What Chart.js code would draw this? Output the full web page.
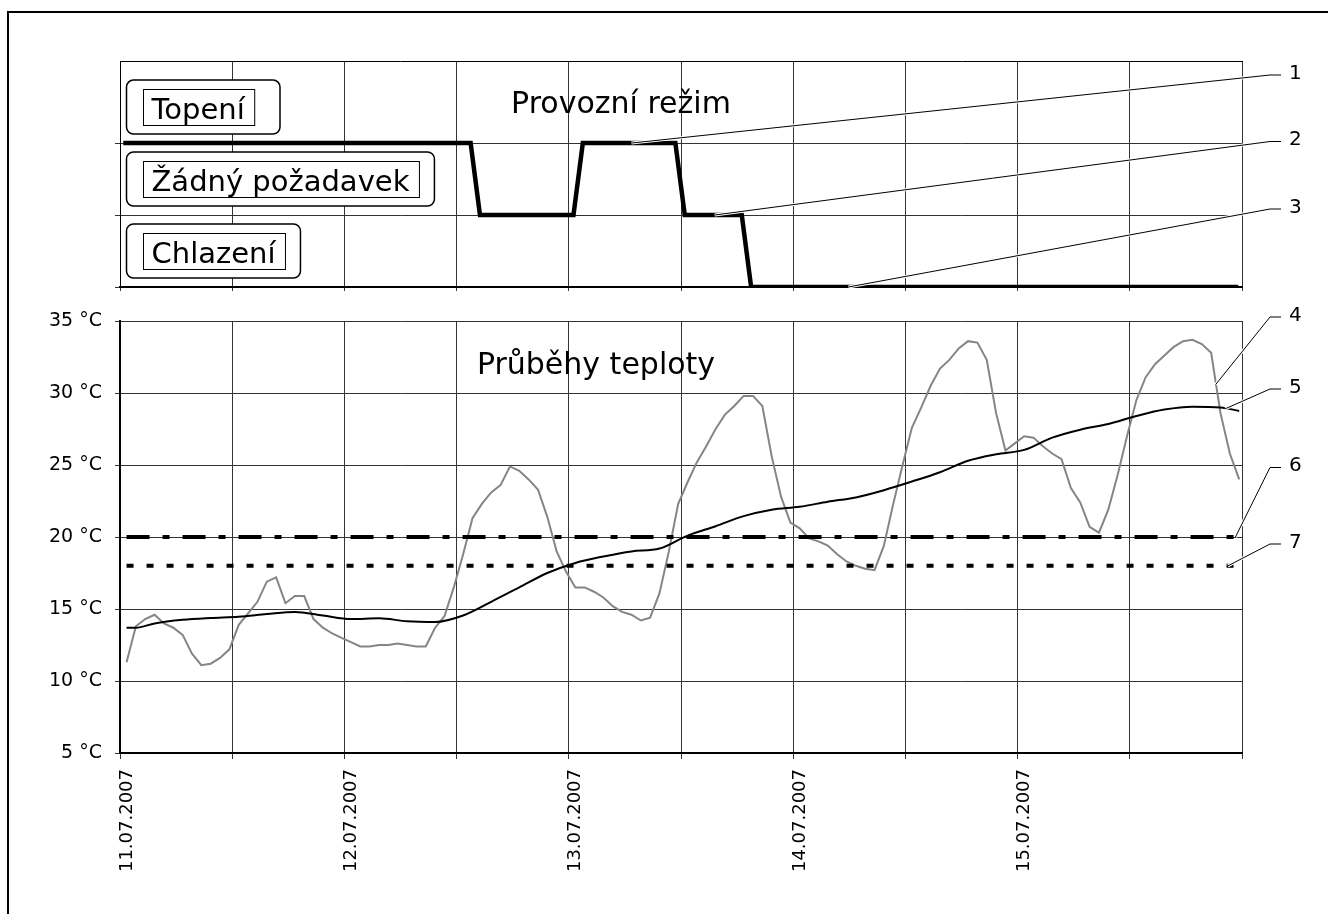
<!DOCTYPE html>
<html>
<head>
  <meta charset="UTF-8">
  <title>Provozní režim a průběhy teploty</title>
  <script src="https://cdn.jsdelivr.net/npm/chart.js"></script>
  <style>
    body {
      margin: 0;
      background: #fff;
    }

    .sheet {
      position: relative;
      width: 1328px;
      height: 914px;
      overflow: hidden;
    }

    .frame {
      position: absolute;
      left: 7px;
      top: 11px;
      width: 1400px;
      height: 1000px;
      border: 2px solid #000;
    }

    canvas {
      position: absolute;
      left: 0;
      top: 0;
    }
  </style>
</head>
<body>
  <div class="sheet">
    <div class="frame"></div>
    <canvas id="modeChart" width="1328" height="914"></canvas>
    <canvas id="tempChart" width="1328" height="914"></canvas>
  </div>

  <script>
    // --- data (x = hours since 11.07.2007 00:00) ---
    const dayLabels = ['11.07.2007', '12.07.2007', '13.07.2007', '14.07.2007', '15.07.2007'];
    const modeTitle = 'Provozní režim';
    const tempTitle = 'Průběhy teploty';

    // mode levels: 0 = Chlazení, 1 = Žádný požadavek, 2 = Topení
    const modeNames = ['Chlazení', 'Žádný požadavek', 'Topení'];
    const modeHours = [0.35, 37.5, 38.5, 48.5, 49.5, 59.4, 60.4, 66.5, 67.5, 119.6];
    const modeLevels = [2, 2, 1, 1, 2, 2, 1, 1, 0, 0];

    // measured temperature, one sample per hour starting at 00:42
    const firstSampleHour = 0.7;
    const measuredTemps = [
      11.3, 13.8, 14.3, 14.6, 14.0, 13.7, 13.2, 11.9, 11.1, 11.2, 11.6, 12.2,
      13.9, 14.7, 15.5, 16.9, 17.2, 15.4, 15.9, 15.9, 14.3, 13.7, 13.3, 13.0,
      12.7, 12.4, 12.4, 12.5, 12.5, 12.6, 12.5, 12.4, 12.4, 13.7, 14.5, 16.5,
      18.8, 21.3, 22.3, 23.1, 23.6, 24.9, 24.6, 24.0, 23.3, 21.4, 19.0, 17.6,
      16.5, 16.5, 16.2, 15.8, 15.2, 14.8, 14.6, 14.2, 14.4, 16.1, 19.0, 22.3,
      23.8, 25.2, 26.3, 27.5, 28.5, 29.1, 29.8, 29.8, 29.1, 25.6, 22.8, 21.0,
      20.6, 19.9, 19.7, 19.4, 18.8, 18.3, 18.0, 17.8, 17.7, 19.4, 22.3, 25.0,
      27.6, 29.0, 30.5, 31.7, 32.3, 33.1, 33.6, 33.5, 32.3, 28.6, 26.0, 26.5,
      27.0, 26.9, 26.3, 25.8, 25.4, 23.4, 22.4, 20.7, 20.3, 21.9, 24.3, 27.0,
      29.5, 31.1, 32.0, 32.6, 33.2, 33.6, 33.7, 33.4, 32.8, 28.6, 25.8, 24.0
    ];

    // averaged temperature
    const avgHours = [0.7, 1.7, 3.7, 6.7, 9.7, 12.7, 15.7, 18.7, 21.7, 24.7, 27.7, 30.7, 33.7, 36.7,
      39.7, 42.7, 45.7, 48.7, 51.7, 54.7, 57.7, 60.7, 63.7, 66.7, 69.7, 72.7, 75.7, 78.7, 81.7,
      84.7, 87.7, 90.7, 93.7, 96.7, 99.7, 102.7, 105.7, 108.7, 111.7, 114.7, 117.7, 119.7];
    const avgTemps = [13.7, 13.7, 14.0, 14.25, 14.38, 14.47, 14.65, 14.8, 14.55, 14.3, 14.35, 14.15, 14.1, 14.55,
      15.5, 16.5, 17.5, 18.2, 18.65, 19.0, 19.2, 20.1, 20.75, 21.45, 21.9, 22.1, 22.45, 22.75, 23.25,
      23.85, 24.5, 25.3, 25.75, 26.05, 26.9, 27.45, 27.85, 28.4, 28.85, 29.05, 29.0, 28.75];

    // set points
    const heatingLimit = 20;
    const coolingLimit = 18;
    const limitHours = [0.7, 119.3];

    // numbered callouts: target in data units, label row in page pixels
    const modeCallouts = [
      { num: '1', hour: 54.7, value: 2, labelY: 75 },
      { num: '2', hour: 63.6, value: 1, labelY: 141.5 },
      { num: '3', hour: 77.9, value: 0, labelY: 209 }
    ];
    const tempCallouts = [
      { num: '4', hour: 117.2, value: 30.6, labelY: 317 },
      { num: '5', hour: 118.2, value: 28.9, labelY: 389 },
      { num: '6', hour: 119.3, value: 20, labelY: 467.5 },
      { num: '7', hour: 118.5, value: 18, labelY: 544 }
    ];

    // --- drawing ---
    Chart.defaults.font.family = '"DejaVu Sans", sans-serif';
    Chart.defaults.color = '#000';

    const gridColor = '#333';
    const fontFamily = '"DejaVu Sans", sans-serif';

    function drawCallout(ctx, c, x, y) {
      const sx = 1270, ex = 1281;
      ctx.save();
      ctx.lineCap = 'butt';
      ctx.strokeStyle = '#fff';
      ctx.lineWidth = 3;
      ctx.beginPath();
      ctx.moveTo(x, y);
      ctx.lineTo(sx, c.labelY);
      ctx.stroke();
      ctx.strokeStyle = '#000';
      ctx.lineWidth = 1;
      ctx.beginPath();
      ctx.moveTo(x, y);
      ctx.lineTo(sx, c.labelY);
      ctx.lineTo(ex, c.labelY);
      ctx.stroke();
      ctx.fillStyle = '#000';
      ctx.font = '20px ' + fontFamily;
      ctx.textAlign = 'left';
      ctx.textBaseline = 'middle';
      ctx.fillText(c.num, 1289, c.labelY - 1.5);
      ctx.restore();
    }

    function boxPath(ctx, x, y, w, h, r) {
      ctx.beginPath();
      if (ctx.roundRect) {
        ctx.roundRect(x, y, w, h, r);
      } else {
        ctx.rect(x, y, w, h);
      }
    }

    const modeDecor = {
      id: 'modeDecor',
      afterDatasetsDraw(chart) {
        const { ctx, scales: { x, y } } = chart;
        ctx.save();
        ctx.font = '29px ' + fontFamily;
        ctx.fillStyle = '#000';
        ctx.strokeStyle = '#000';
        modeNames.forEach((name, i) => {
          const top = y.getPixelForValue(Math.min(i + 1, y.max));
          const bottom = y.getPixelForValue(i);
          const cy = (top + bottom) / 2;
          const w = ctx.measureText(name).width;
          const innerLeft = 143.5;
          const innerRight = innerLeft + w + 18;
          const outerRight = Math.max(innerRight + 15, 280);
          ctx.lineWidth = 1.5;
          boxPath(ctx, 126.5, cy - 27, outerRight - 126.5, 54, 7);
          ctx.fillStyle = '#fff';
          ctx.fill();
          ctx.stroke();
          ctx.lineWidth = 1;
          ctx.strokeRect(innerLeft, Math.round(cy - 18) + 0.5, innerRight - innerLeft, 36);
          ctx.fillStyle = '#000';
          ctx.textAlign = 'left';
          ctx.textBaseline = 'alphabetic';
          ctx.fillText(name, innerLeft + 8, cy + 11.5);
        });
        ctx.font = '30px ' + fontFamily;
        ctx.textAlign = 'center';
        ctx.fillText(modeTitle, 621, 113);
        ctx.restore();
        modeCallouts.forEach(c => drawCallout(ctx, c, x.getPixelForValue(c.hour), y.getPixelForValue(c.value)));
      }
    };

    const tempDecor = {
      id: 'tempDecor',
      afterDatasetsDraw(chart) {
        const { ctx, scales: { x, y } } = chart;
        ctx.save();
        ctx.fillStyle = '#000';
        ctx.font = '30px ' + fontFamily;
        ctx.textAlign = 'center';
        ctx.textBaseline = 'alphabetic';
        ctx.fillText(tempTitle, 596, 374);
        ctx.restore();
        tempCallouts.forEach(c => drawCallout(ctx, c, x.getPixelForValue(c.hour), y.getPixelForValue(c.value)));
      }
    };

    new Chart(document.getElementById('modeChart'), {
      type: 'line',
      data: {
        datasets: [{
          label: 'Provozní režim',
          data: modeHours.map((h, i) => ({ x: h, y: modeLevels[i] })),
          borderColor: '#000',
          borderWidth: 4.5,
          borderJoinStyle: 'miter',
          pointRadius: 0,
          tension: 0
        }]
      },
      options: {
        responsive: false,
        animation: false,
        devicePixelRatio: 1,
        layout: { padding: { top: 61, right: 86, left: 0, bottom: 0 } },
        plugins: { legend: { display: false }, tooltip: { enabled: false } },
        scales: {
          x: {
            type: 'linear', min: 0, max: 120,
            ticks: { stepSize: 12, display: false },
            grid: { color: gridColor, lineWidth: 1, tickLength: 4 },
            border: { color: '#000', width: 2 },
            afterFit: a => { a.height = 627; }
          },
          xTop: {
            type: 'linear', position: 'top', min: 0, max: 120,
            ticks: { display: false },
            grid: { display: false },
            border: { color: '#000', width: 1 },
            afterFit: a => { a.height = 0; }
          },
          y: {
            min: 0, max: 3.14,
            afterBuildTicks: a => { a.ticks = modeNames.map((n, i) => ({ value: i })); },
            ticks: { display: false },
            grid: { color: gridColor, lineWidth: 1, tickLength: 5 },
            border: { color: '#000', width: 1 },
            afterFit: a => { a.width = 120; }
          }
        }
      },
      plugins: [modeDecor]
    });

    new Chart(document.getElementById('tempChart'), {
      type: 'line',
      data: {
        datasets: [
          {
            label: 'Průměrná teplota',
            data: avgHours.map((h, i) => ({ x: h, y: avgTemps[i] })),
            borderColor: '#000',
            borderWidth: 2,
            pointRadius: 0,
            cubicInterpolationMode: 'monotone'
          },
          {
            label: 'Topení od',
            data: limitHours.map(h => ({ x: h, y: heatingLimit })),
            borderColor: '#000',
            borderWidth: 4,
            borderDash: [23, 13, 7, 13],
            borderCapStyle: 'butt',
            pointRadius: 0
          },
          {
            label: 'Chlazení od',
            data: limitHours.map(h => ({ x: h, y: coolingLimit })),
            borderColor: '#000',
            borderWidth: 4,
            borderDash: [7, 13],
            borderCapStyle: 'butt',
            pointRadius: 0
          },
          {
            label: 'Teplota',
            data: measuredTemps.map((t, i) => ({ x: firstSampleHour + i, y: t })),
            borderColor: '#858585',
            borderWidth: 2,
            pointRadius: 0,
            tension: 0
          }
        ]
      },
      options: {
        responsive: false,
        animation: false,
        devicePixelRatio: 1,
        layout: { padding: { top: 321, right: 86, left: 0, bottom: 0 } },
        plugins: { legend: { display: false }, tooltip: { enabled: false } },
        scales: {
          x: {
            type: 'linear', min: 0, max: 120,
            ticks: {
              stepSize: 12,
              autoSkip: false,
              minRotation: 90,
              maxRotation: 90,
              padding: 10,
              labelOffset: 7,
              font: { size: 18 },
              color: '#000',
              callback: v => (v % 24 === 0 && dayLabels[v / 24]) ? dayLabels[v / 24] : ''
            },
            grid: { color: gridColor, lineWidth: 1, tickLength: 6 },
            border: { color: '#000', width: 2 },
            afterFit: a => { a.height = 161; }
          },
          y: {
            min: 5, max: 35,
            ticks: {
              stepSize: 5,
              padding: 13,
              font: { size: 19 },
              color: '#000',
              callback: v => v + ' °C'
            },
            grid: { color: gridColor, lineWidth: 1, tickLength: 5 },
            border: { color: '#000', width: 2 },
            afterFit: a => { a.width = 120; }
          }
        }
      },
      plugins: [tempDecor]
    });
  </script>
</body>
</html>
